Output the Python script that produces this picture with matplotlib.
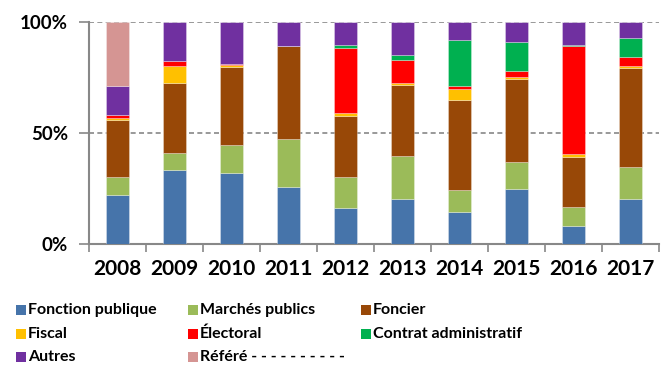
import matplotlib

matplotlib.use("Agg")
import matplotlib.pyplot as plt
import numpy as np
from matplotlib.patches import Rectangle

plt.rcParams["font.family"] = ["Lato", "DejaVu Sans"]
plt.rcParams["font.weight"] = "bold"

years = ["2008", "2009", "2010", "2011", "2012", "2013", "2014", "2015", "2016", "2017"]

# shares in %, bottom to top
fonction_publique = [22.0, 33.2, 31.8, 25.5, 16.0, 20.4, 14.5, 25.0, 7.9, 20.4]
marches_publics = [8.0, 7.9, 12.6, 21.9, 14.2, 19.4, 10.0, 11.9, 8.9, 14.1]
foncier = [26.0, 31.6, 34.7, 41.6, 27.5, 31.6, 40.2, 37.6, 22.4, 44.6]
fiscal = [0.9, 7.3, 1.2, 0.0, 1.1, 1.1, 4.9, 0.9, 1.5, 1.1]
electoral = [1.2, 2.3, 0.3, 0.0, 29.5, 10.5, 1.4, 2.5, 48.3, 4.0]
contrat_admin = [0.0, 0.0, 0.0, 0.0, 1.2, 2.1, 21.0, 13.1, 0.8, 8.4]
autres = [13.2, 17.7, 18.8, 11.0, 10.5, 14.9, 8.0, 9.0, 10.2, 7.4]
refere = [28.7, 0.0, 0.0, 0.0, 0.0, 0.0, 0.0, 0.0, 0.0, 0.0]

series = [
    ("Fonction publique", fonction_publique, "#4674AA"),
    ("Marchés publics", marches_publics, "#9BBB59"),
    ("Foncier", foncier, "#984807"),
    ("Fiscal", fiscal, "#FFC000"),
    ("Électoral", electoral, "#FF0000"),
    ("Contrat administratif", contrat_admin, "#00B050"),
    ("Autres", autres, "#7030A0"),
    ("Référé - - - - - - - - - -", refere, "#D59593"),
]

fig = plt.figure(figsize=(6.66, 3.65), dpi=100)
ax = fig.add_axes([89 / 666, 1 - 244 / 365, 570 / 666, 222 / 365])

x = np.arange(len(years))
totals = np.zeros(len(years))
for name, vals, color in series:
    totals += np.array(vals)
bottom = np.zeros(len(years))
for name, vals, color in series:
    share = np.array(vals) / totals
    ax.bar(x, share, 0.4, bottom=bottom, color=color, edgecolor=(1, 1, 1, 0.35), linewidth=0.6, zorder=3)
    bottom += share

ax.set_xlim(-0.5, len(years) - 0.5)
ax.set_ylim(0, 1)
ax.set_yticks([0, 0.5, 1])
ax.set_yticklabels(["0%", "50%", "100%"], fontsize=13.5, fontweight="bold")
for y in (0.5, 1.0):
    ax.axhline(y, color="#888888", linestyle=(0, (3, 2)), linewidth=1.2, zorder=1)

ax.set_xticks(x)
ax.set_xticklabels(years, fontsize=15, fontweight="bold")
ax.tick_params(axis="x", length=0, pad=11)
ax.set_xticks(np.arange(-0.5, len(years)), minor=True)
ax.tick_params(axis="x", which="minor", length=6, width=1.2, color="#888888", direction="out")
ax.tick_params(axis="y", length=7, width=1.2, color="#888888", direction="out", pad=8)

for side in ("top", "right"):
    ax.spines[side].set_visible(False)
for side in ("left", "bottom"):
    ax.spines[side].set_color("#888888")
    ax.spines[side].set_linewidth(1.5)

# legend, three columns, filled row by row
col_x = [16, 188, 361]
row_y = [310, 334, 357]
for i, (name, vals, color) in enumerate(series):
    cx = col_x[i % 3]
    cy = row_y[i // 3]
    fig.patches.append(Rectangle((cx / 666, 1 - (cy + 5) / 365), 10 / 666, 10 / 365,
                                 transform=fig.transFigure, facecolor=color, edgecolor="none"))
    fig.text((cx + 12) / 666, 1 - cy / 365, name, fontsize=11.5, fontweight="bold", va="center", ha="left")

fig.savefig("out.png", dpi=100)
